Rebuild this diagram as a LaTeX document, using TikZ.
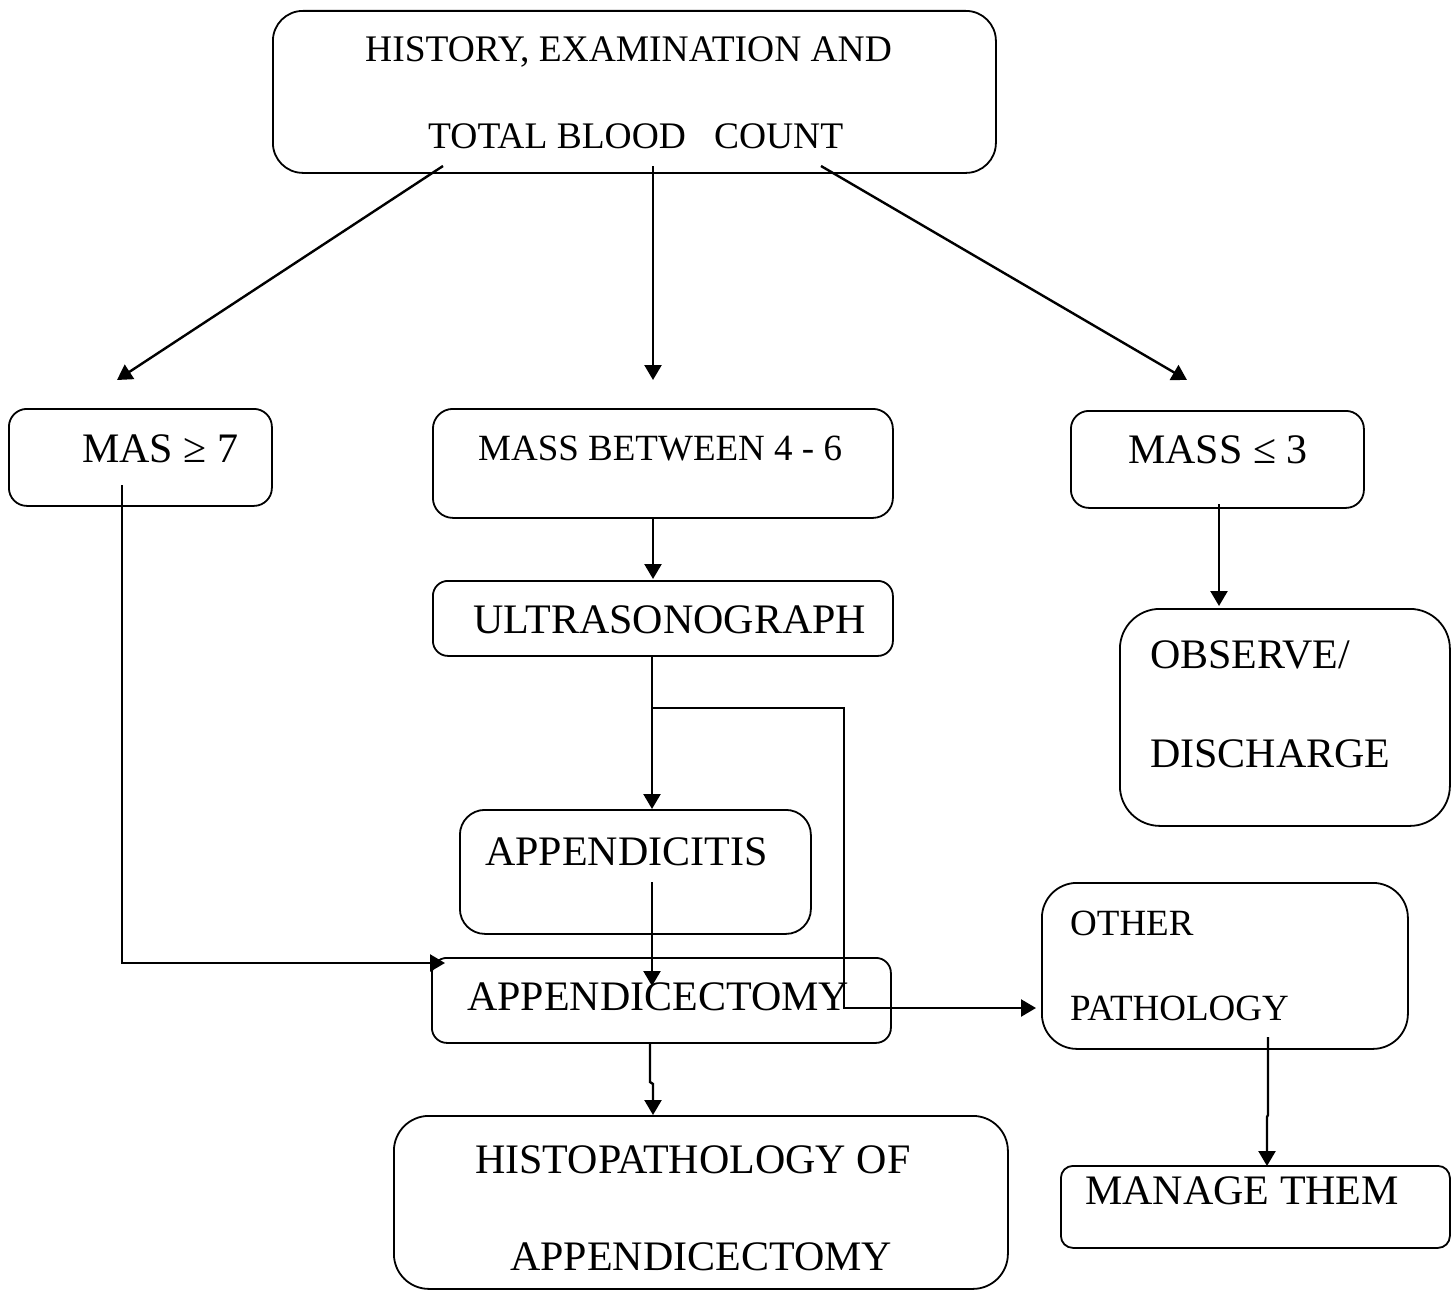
\documentclass[tikz,border=0pt]{standalone}
\usepackage{fontspec}
\setmainfont{Liberation Serif}
\usetikzlibrary{arrows.meta}
\begin{document}
\begin{tikzpicture}[x=1pt,y=-1pt,
  box/.style={draw, line width=1.8pt, inner sep=0pt, anchor=north west},
  txt/.style={inner sep=0pt, anchor=base west},
  conn/.style={line width=2.4pt, -{Triangle[length=15pt,width=17pt]}},
  plain/.style={line width=2.4pt},
  fA/.style={font=\fontsize{37.5}{44}\selectfont},
  fB/.style={font=\fontsize{42}{50}\selectfont},
  fC/.style={font=\fontsize{37}{44}\selectfont}]
\useasboundingbox (0,0) rectangle (1451,1290);
% boxes
\node[box, rounded corners=30pt, minimum width=723pt, minimum height=162pt] (top) at (272,10) {};
\node[box, rounded corners=18pt, minimum width=263pt, minimum height=97pt] (mas7) at (8,408) {};
\node[box, rounded corners=20pt, minimum width=460pt, minimum height=109pt] (mid) at (432,408) {};
\node[box, rounded corners=18pt, minimum width=293pt, minimum height=97pt] (mas3) at (1070,410) {};
\node[box, rounded corners=15pt, minimum width=460pt, minimum height=75pt] (ultra) at (432,580) {};
\node[box, rounded corners=40pt, minimum width=330pt, minimum height=217pt] (obs) at (1119,608) {};
\node[box, rounded corners=25pt, minimum width=351pt, minimum height=124pt] (appx) at (459,809) {};
\node[box, rounded corners=15pt, minimum width=459pt, minimum height=85pt] (appy) at (431,957) {};
\node[box, rounded corners=35pt, minimum width=366pt, minimum height=166pt] (other) at (1041,882) {};
\node[box, rounded corners=12pt, minimum width=389pt, minimum height=82pt] (manage) at (1060,1165) {};
\node[box, rounded corners=35pt, minimum width=614pt, minimum height=173pt] (histo) at (393,1115) {};
% texts
\node[txt, fA] (t1) at (365,62) {HISTORY, EXAMINATION AND};
\node[txt, fA] (t2) at (428,148) {TOTAL BLOOD\ \ \ COUNT};
\node[txt, fB] (t3) at (82,462) {MAS ≥ 7};
\node[txt, fC] (t4) at (478,460) {MASS BETWEEN 4 - 6};
\node[txt, fB] (t5) at (1128,463) {MASS ≤ 3};
\node[txt, fB] (t6) at (473,633) {ULTRASONOGRAPH};
\node[txt, fB] (t7) at (1150,668) {OBSERVE/};
\node[txt, fB] (t8) at (1150,767) {DISCHARGE};
\node[txt, fB] (t9) at (485,865) {APPENDICITIS};
\node[txt, fB] (t10) at (467,1010) {APPENDICECTOMY};
\node[txt, fC] (t11) at (1070,935) {OTHER};
\node[txt, fC] (t12) at (1070,1020) {PATHOLOGY};
\node[txt, fB] (t13) at (1085,1204) {MANAGE THEM};
\node[txt, fB] (t14) at (475,1173) {HISTOPATHOLOGY OF};
\node[txt, fB] (t15) at (510,1270) {APPENDICECTOMY};
% connector ends
\coordinate (a1s) at (443,166); \coordinate (a1e) at (117,380);
\coordinate (a2s) at (653,166); \coordinate (a2e) at (653,380);
\coordinate (a3s) at (821,166); \coordinate (a3e) at (1187,380);
\coordinate (b1s) at (122,485); \coordinate (b1k) at (122,963); \coordinate (b1e) at (445,963);
\coordinate (b2s) at (653,518); \coordinate (b2e) at (653,579);
\coordinate (b3s) at (652,655); \coordinate (b3e) at (652,809);
\coordinate (br) at (652,708); \coordinate (brk1) at (844,708); \coordinate (brk2) at (844,1008); \coordinate (bre) at (1036,1008);
\coordinate (b4s) at (652,882); \coordinate (b4e) at (652,986);
\coordinate (b5s) at (650,1043); \coordinate (b5k1) at (650,1082); \coordinate (b5k2) at (653,1084); \coordinate (b5e) at (653,1115);
\coordinate (b6s) at (1219,504); \coordinate (b6e) at (1219,606);
\coordinate (b7s) at (1268,1037); \coordinate (b7k1) at (1268,1115); \coordinate (b7k2) at (1267,1117); \coordinate (b7e) at (1267,1166);
% connectors
\draw[conn] (a1s) -- (a1e);
\draw[conn] (a2s) -- (a2e);
\draw[conn] (a3s) -- (a3e);
\draw[conn] (b1s) -- (b1k) -- (b1e);
\draw[conn] (b2s) -- (b2e);
\draw[conn] (b3s) -- (b3e);
\draw[conn] (br) -- (brk1) -- (brk2) -- (bre);
\draw[conn] (b4s) -- (b4e);
\draw[conn] (b5s) -- (b5k1) -- (b5k2) -- (b5e);
\draw[conn] (b6s) -- (b6e);
\draw[conn] (b7s) -- (b7k1) -- (b7k2) -- (b7e);
\end{tikzpicture}
\end{document}
